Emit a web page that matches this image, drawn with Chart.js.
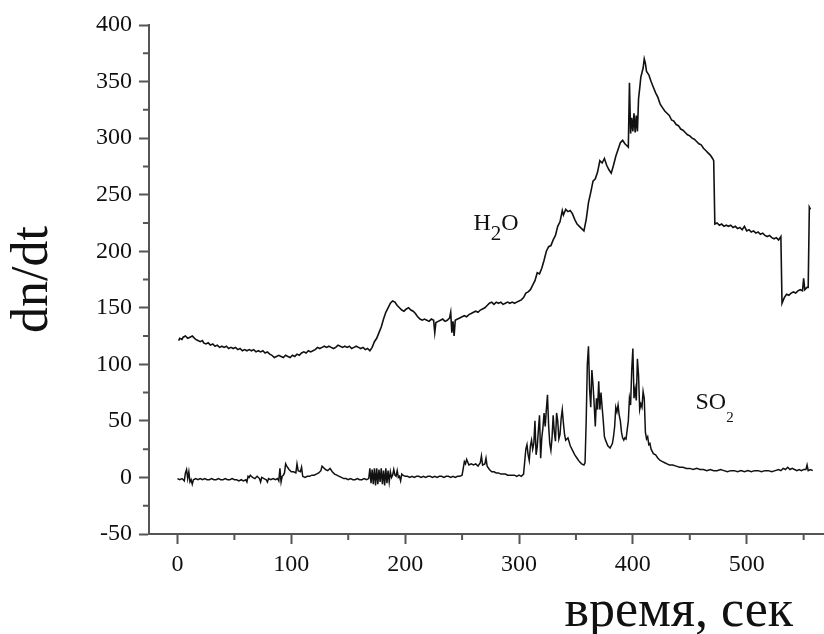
<!DOCTYPE html>
<html>
<head>
<meta charset="utf-8">
<script src="https://cdn.jsdelivr.net/npm/chart.js@4.4.1/dist/chart.umd.min.js"></script>
<style>
  html, body { margin: 0; padding: 0; background: #fff; }
  canvas { display: block; }
</style>
</head>
<body>
<canvas id="chart" width="824" height="634"></canvas>
<script>
// Время (сек) и dn/dt для H2O
const tH2O = [
  1, 2, 4, 5, 7, 9, 11, 13, 14, 16, 18, 20, 22, 23, 25, 27, 29, 31, 33, 35,
  37, 39, 41, 43, 45, 47, 49, 51, 53, 55, 57, 59, 61, 63, 65, 67, 69, 71, 73, 75,
  77, 79, 81, 83, 85, 87, 89, 91, 93, 95, 97, 99, 101, 103, 105, 107, 109, 111, 113, 115,
  117, 119, 121, 123, 125, 127, 129, 131, 133, 135, 137, 139, 141, 143, 145, 147, 149, 151, 153, 155,
  157, 159, 161, 163, 165, 167, 169, 171, 173, 175, 177, 179, 181, 183, 185, 187, 189, 191, 193, 195,
  197, 199, 201, 203, 205, 207, 209, 211, 213, 215, 217, 219, 221, 223, 225, 226, 227, 229, 231, 233,
  235, 237, 239, 240, 241, 242, 243, 244, 246, 248, 250, 252, 254, 256, 258, 260, 262, 264, 266, 268,
  270, 272, 274, 276, 278, 280, 282, 284, 286, 288, 290, 292, 294, 296, 298, 300, 302, 304, 306, 308,
  310, 312, 314, 316, 318, 320, 322, 324, 326, 328, 330, 332, 334, 336, 338, 339, 341, 343, 345, 347,
  349, 351, 353, 355, 357, 359, 361, 363, 365, 367, 369, 371, 373, 375, 377, 379, 381, 383, 385, 387,
  389, 391, 393, 395, 396, 397, 398, 399, 400, 401, 402, 403, 404, 405, 406, 407, 409, 410, 411, 412,
  414, 416, 418, 420, 422, 424, 426, 428, 430, 432, 434, 436, 438, 440, 442, 444, 446, 448, 450, 452,
  454, 456, 458, 460, 462, 464, 466, 468, 470, 471, 472, 474, 476, 478, 480, 482, 484, 486, 488, 490,
  492, 494, 496, 498, 500, 502, 504, 506, 508, 510, 512, 514, 516, 518, 520, 522, 524, 526, 528, 530,
  531, 533, 535, 537, 539, 541, 543, 545, 547, 549, 550, 551, 553, 554, 555, 556
];
const vH2O = [
  121, 123, 122, 124, 125, 123, 124, 125, 124, 122, 121, 120, 121, 119, 118, 119, 117, 118, 116, 117,
  115, 116, 115, 116, 114, 115, 114, 115, 113, 114, 112, 113, 112, 113, 112, 113, 111, 112, 111, 112,
  110, 111, 109, 108, 106, 107, 108, 107, 106, 108, 107, 106, 108, 107, 109, 108, 110, 111, 110, 112,
  111, 112, 113, 115, 114, 115, 116, 115, 116, 115, 114, 115, 117, 116, 115, 116, 115, 116, 114, 115,
  116, 115, 114, 115, 113, 114, 112, 115, 120, 123, 128, 133, 140, 146, 150, 154, 156, 155, 152, 150,
  148, 147, 149, 150, 148, 147, 145, 142, 140, 139, 140, 139, 138, 140, 139, 128, 137, 138, 139, 140,
  138, 139, 141, 146, 128, 138, 125, 139, 140, 141, 142, 143, 142, 144, 145, 146, 147, 146, 148, 149,
  150, 152, 154, 155, 153, 155, 154, 155, 153, 154, 155, 154, 155, 154, 155, 156, 157, 159, 163, 164,
  166, 170, 174, 181, 180, 185, 192, 200, 204, 205, 210, 214, 222, 226, 236, 232, 237, 235, 236, 233,
  228, 224, 222, 220, 218, 228, 243, 252, 262, 264, 270, 280, 278, 282, 276, 272, 269, 276, 284, 290,
  296, 298, 295, 293, 292, 349, 304, 318, 306, 322, 305, 320, 306, 335, 344, 354, 362, 370, 366, 359,
  356, 350, 345, 340, 336, 330, 327, 324, 322, 320, 316, 315, 312, 311, 308, 307, 305, 303, 302, 300,
  299, 297, 295, 294, 291, 289, 287, 285, 282, 280, 224, 225, 223, 224, 222, 223, 222, 223, 221, 222,
  220, 221, 219, 222, 218, 219, 217, 218, 216, 217, 215, 216, 214, 213, 214, 212, 211, 212, 210, 213,
  154, 159, 162, 161, 163, 164, 163, 165, 166, 165, 176, 166, 168, 168, 239, 237
];

// Время (сек) и dn/dt для SO2
const tSO2 = [
  0, 2, 4, 6, 7, 8, 9, 10, 11, 12, 13, 14, 16, 18, 20, 22, 24, 26, 28, 30,
  32, 34, 36, 38, 40, 42, 44, 46, 48, 50, 52, 54, 56, 58, 60, 61, 62, 63, 64, 66,
  68, 70, 72, 73, 74, 76, 78, 79, 80, 82, 84, 86, 88, 89, 90, 91, 92, 93, 94, 95,
  96, 98, 100, 102, 104, 105, 106, 108, 109, 110, 112, 114, 116, 118, 120, 122, 124, 126, 127, 128,
  130, 132, 134, 136, 138, 140, 142, 144, 146, 148, 150, 152, 154, 156, 158, 160, 162, 164, 166, 168,
  169, 170, 171, 172, 173, 174, 175, 176, 177, 178, 179, 180, 181, 182, 183, 184, 185, 186, 187, 188,
  189, 190, 191, 192, 193, 194, 195, 196, 197, 198, 200, 202, 204, 206, 208, 210, 212, 214, 216, 218,
  220, 222, 224, 226, 228, 230, 232, 234, 236, 238, 240, 242, 244, 246, 248, 250, 252, 253, 254, 256,
  258, 260, 262, 264, 266, 267, 268, 270, 271, 272, 274, 276, 278, 280, 282, 284, 286, 288, 290, 292,
  294, 296, 298, 300, 302, 304, 306, 307, 308, 309, 310, 311, 312, 313, 314, 315, 316, 317, 318, 319,
  320, 321, 322, 323, 324, 325, 326, 327, 328, 329, 330, 331, 332, 333, 334, 335, 336, 337, 338, 339,
  340, 341, 343, 345, 347, 349, 351, 353, 355, 357, 358, 359, 360, 361, 362, 363, 364, 365, 366, 367,
  368, 369, 370, 371, 372, 373, 374, 375, 376, 378, 380, 382, 383, 384, 385, 386, 387, 388, 389, 390,
  391, 392, 393, 394, 395, 396, 397, 398, 399, 400, 401, 402, 403, 404, 405, 406, 407, 408, 409, 410,
  411, 412, 413, 414, 415, 416, 418, 420, 422, 424, 426, 428, 430, 432, 435, 438, 441, 444, 447, 450,
  453, 456, 459, 462, 465, 468, 471, 474, 477, 480, 483, 486, 489, 492, 495, 498, 501, 504, 507, 510,
  513, 516, 519, 522, 525, 528, 530, 532, 534, 536, 538, 540, 542, 544, 546, 548, 550, 552, 553, 554,
  556, 558
];
const vSO2 = [
  -1, -2, -1, -3, 4, 7, -1, 5, -4, -2, -6, -2, -1, -2, -1, -2, -1, -2, -2, -1,
  -2, -2, -1, -2, -2, -1, -2, -2, -1, -2, -2, -3, -2, -3, -2, -4, 1, 0, 2, 0,
  -1, 1, -1, -4, 0, -1, -2, -4, -1, -2, -1, -2, -1, -3, 8, -4, 1, 2, 4, 12,
  10, 7, 5, 5, 4, 12, 6, 5, 9, 1, 0, 1, 1, 2, 2, 3, 4, 6, 10, 9,
  7, 6, 8, 5, 3, 2, 1, 0, -1, -1, -2, -1, -2, -2, -1, -2, -2, -1, -2, -1,
  8, -5, 7, -6, 8, -7, 8, -6, 7, -4, 8, -6, 6, -7, 8, -5, 6, -4, 5, 0,
  2, 7, 2, 1, 6, 0, 1, -3, 3, 2, 1, 1, 0, 1, 0, 1, 1, 0, 1, 0,
  1, 1, 0, 1, 0, 1, 1, 0, 1, 1, 0, 1, 0, 1, 1, 2, 14, 12, 16, 11,
  12, 11, 12, 10, 13, 19, 11, 12, 17, 10, 7, 5, 5, 4, 4, 3, 3, 3, 2, 2,
  2, 2, 1, 2, 1, 3, 25, 29, 20, 15, 28, 33, 25, 30, 50, 20, 27, 42, 55, 17,
  35, 44, 57, 45, 60, 73, 46, 30, 24, 35, 55, 40, 32, 57, 50, 34, 38, 52, 60, 48,
  38, 33, 35, 28, 24, 20, 17, 14, 12, 11, 13, 50, 100, 116, 78, 62, 95, 82, 65, 45,
  70, 60, 85, 60, 75, 62, 50, 36, 33, 28, 26, 30, 36, 45, 62, 58, 64, 55, 50, 40,
  35, 33, 35, 34, 42, 50, 70, 64, 95, 114, 70, 78, 68, 105, 90, 60, 65, 62, 76, 70,
  40, 34, 36, 29, 30, 25, 21, 20, 17, 15, 14, 13, 12, 11, 11, 10, 9, 9, 8, 8,
  7, 8, 7, 7, 6, 7, 6, 6, 7, 6, 5, 6, 6, 5, 6, 5, 6, 5, 6, 6,
  5, 6, 6, 5, 6, 7, 6, 8, 7, 9, 7, 8, 7, 6, 7, 6, 7, 7, 11, 6,
  7, 6
];

// Деления осей
const xTicks = [0, 100, 200, 300, 400, 500];
const xMinor = [50, 150, 250, 350, 450, 550];
const yTicks = [-50, 0, 50, 100, 150, 200, 250, 300, 350, 400];
const yMinor = [-25, 25, 75, 125, 175, 225, 275, 325, 375];

const SERIF = '"Liberation Serif", "Times New Roman", serif';
const AXIS = '#555';
const INK = '#111';

function toPoints(ts, vs) {
    return ts.map((t, i) => ({ x: t, y: vs[i] }));
}

// Подпись с нижним индексом
function drawFormula(ctx, px, py, parts) {
    let cx = px;
    parts.forEach(p => {
        ctx.font = p.size + 'px ' + SERIF;
        ctx.fillText(p.t, cx, py + (p.drop || 0));
        cx += ctx.measureText(p.t).width;
    });
}

const extras = {
    id: 'extras',
    afterDraw(chart) {
        const { ctx, scales: { x, y } } = chart;
        ctx.save();
        // мелкие деления
        ctx.strokeStyle = AXIS;
        ctx.lineWidth = 2;
        ctx.beginPath();
        xMinor.forEach(v => {
            const px = x.getPixelForValue(v);
            ctx.moveTo(px, x.top);
            ctx.lineTo(px, x.top + 6);
        });
        yMinor.forEach(v => {
            const py = y.getPixelForValue(v);
            ctx.moveTo(y.right, py);
            ctx.lineTo(y.right - 6, py);
        });
        ctx.stroke();

        // подписи кривых
        ctx.fillStyle = INK;
        ctx.textAlign = 'left';
        ctx.textBaseline = 'alphabetic';
        drawFormula(ctx, x.getPixelForValue(260), y.getPixelForValue(219), [
            { t: 'H', size: 24 }, { t: '2', size: 21, drop: 10 }, { t: 'O', size: 24 }
        ]);
        drawFormula(ctx, x.getPixelForValue(455), y.getPixelForValue(60.5), [
            { t: 'SO', size: 24 }, { t: '2', size: 15, drop: 13 }
        ]);

        // подпись оси X
        ctx.font = '52px ' + SERIF;
        ctx.textAlign = 'right';
        ctx.fillText('время, сек', x.right - 30, x.bottom - 8);
        ctx.restore();
    }
};

new Chart(document.getElementById('chart'), {
    type: 'line',
    data: {
        datasets: [
            { label: 'H2O', data: toPoints(tH2O, vH2O), borderColor: INK, borderWidth: 1.6, pointRadius: 0, tension: 0 },
            { label: 'SO2', data: toPoints(tSO2, vSO2), borderColor: INK, borderWidth: 1.5, pointRadius: 0, tension: 0 }
        ]
    },
    options: {
        responsive: false,
        animation: false,
        layout: { padding: { top: 25, right: 1, left: 0, bottom: 0 } },
        plugins: { legend: { display: false }, tooltip: { enabled: false } },
        scales: {
            x: {
                type: 'linear',
                min: -25,
                max: 567,
                afterBuildTicks: s => { s.ticks = xTicks.map(v => ({ value: v })); },
                afterFit: s => { s.height = 100; },
                grid: { drawOnChartArea: false, tickLength: 10, tickWidth: 2, tickColor: AXIS },
                border: { color: AXIS, width: 2 },
                ticks: { font: { family: SERIF, size: 24 }, color: INK, padding: 6, maxRotation: 0, autoSkip: false }
            },
            y: {
                min: -50,
                max: 400,
                afterBuildTicks: s => { s.ticks = yTicks.map(v => ({ value: v })); },
                afterFit: s => { s.width = 149; },
                grid: { drawOnChartArea: false, tickLength: 10, tickWidth: 2, tickColor: AXIS },
                border: { color: AXIS, width: 2 },
                ticks: { font: { family: SERIF, size: 24 }, color: INK, padding: 7, autoSkip: false },
                title: {
                    display: true,
                    text: 'dn/dt',
                    color: INK,
                    font: { family: SERIF, size: 52, lineHeight: 1 },
                    padding: { top: 7, bottom: 0 }
                }
            }
        }
    },
    plugins: [extras]
});
</script>
</body>
</html>
